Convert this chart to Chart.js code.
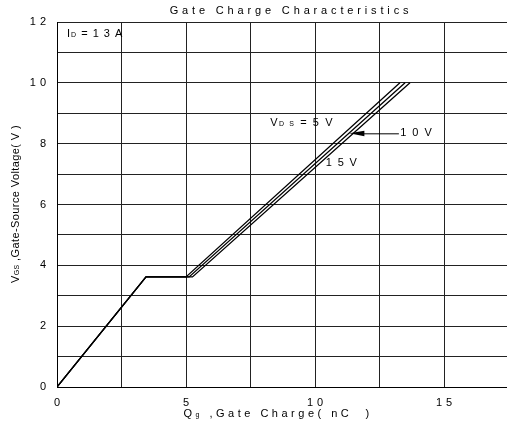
<!DOCTYPE html>
<html><head><meta charset="utf-8">
<script src="https://cdn.jsdelivr.net/npm/chart.js@4/dist/chart.umd.min.js"></script>
<style>html,body{margin:0;padding:0;background:#fff}</style>
</head><body>
<canvas id="c" width="507" height="430" style="display:block;width:507px;height:430px"></canvas>
<script>
// ---- data ----
const seriesNames = ['VDS = 5V', 'VDS = 10V', 'VDS = 15V'];
const qg5V  = [0, 3.45, 5.00, 13.29];   // nC
const qg10V = [0, 3.45, 5.12, 13.49];
const qg15V = [0, 3.45, 5.25, 13.68];
const vgs   = [0, 3.62, 3.62, 10];      // V
const xTickLabels = [0, 5, 10, 15];
const yTickLabels = [0, 2, 4, 6, 8, 10, 12];

const FONT = '"Liberation Sans", Arial, sans-serif';

function toPoints(xs, ys) { return xs.map((x, i) => ({x: x, y: ys[i]})); }

function drawRuns(ctx, runs, x, y, spacing, align) {
  ctx.save();
  ctx.letterSpacing = spacing + 'px';
  ctx.textBaseline = 'middle';
  ctx.textAlign = 'left';
  ctx.fillStyle = '#000';
  const widths = runs.map(r => { ctx.font = r[1] + 'px ' + FONT; return ctx.measureText(r[0]).width; });
  const total = widths.reduce((a, b) => a + b, 0);
  let cx = align === 'center' ? x - total / 2 : x;
  runs.forEach((r, i) => {
    ctx.font = r[1] + 'px ' + FONT;
    ctx.fillText(r[0], cx, y + (r[2] || 0));
    cx += widths[i];
  });
  ctx.restore();
}

const textPlugin = {
  id: 'texts',
  beforeDraw(chart) { chart.ctx.letterSpacing = '4px'; },
  afterDraw(chart) {
    const ctx = chart.ctx;
    const xs = chart.scales.x, ys = chart.scales.y;
    const X = v => xs.getPixelForValue(v), Y = v => ys.getPixelForValue(v);
    // title
    drawRuns(ctx, [['Gate Charge Characteristics', 11]], 291, 11, 3.85, 'center');
    // axis titles
    drawRuns(ctx, [['Q', 11], ['g', 7, 1], [' ,Gate Charge( nC  )', 11]], 278, 414, 3.5, 'center');
    ctx.save();
    ctx.translate(16, 204);
    ctx.rotate(-Math.PI / 2);
    drawRuns(ctx, [['V', 11], ['GS', 7, 1], [' ,Gate-Source Voltage( V )', 11]], 0, 0, 0.4, 'center');
    ctx.restore();
    // condition label
    drawRuns(ctx, [['I', 11], ['D', 7, 1], [' = 1 3 A', 11]], 67, 34, 1.0, 'left');
    // series labels
    drawRuns(ctx, [['V', 11], ['D S', 7, 1], [' = 5 V', 11]], X(8.26), Y(8.67), 1.6, 'left');
    drawRuns(ctx, [['1 0 V', 11]], X(13.3), Y(8.34), 1.5, 'left');
    drawRuns(ctx, [['1 5 V', 11]], X(10.42), Y(7.37), 1.3, 'left');
    // arrow to the 10V curve
    const tipX = X(11.33), tipY = Y(8.34);
    ctx.save();
    ctx.strokeStyle = '#000'; ctx.fillStyle = '#000'; ctx.lineWidth = 1;
    ctx.beginPath(); ctx.moveTo(tipX + 10, tipY + 0.5); ctx.lineTo(X(13.25), tipY + 0.5); ctx.stroke();
    ctx.beginPath(); ctx.moveTo(tipX, tipY); ctx.lineTo(tipX + 15, tipY - 2.5); ctx.lineTo(tipX + 15, tipY + 3); ctx.closePath(); ctx.fill();
    ctx.restore();
  }
};

const lineStyle = {borderColor: '#000', backgroundColor: '#000', borderWidth: 1.3, pointRadius: 0, tension: 0, fill: false, showLine: true};

new Chart(document.getElementById('c'), {
  type: 'scatter',
  data: {
    datasets: [
      Object.assign({label: seriesNames[0], data: toPoints(qg5V, vgs)}, lineStyle),
      Object.assign({label: seriesNames[1], data: toPoints(qg10V, vgs)}, lineStyle),
      Object.assign({label: seriesNames[2], data: toPoints(qg15V, vgs)}, lineStyle)
    ]
  },
  options: {
    responsive: false,
    animation: false,
    devicePixelRatio: 1,
    layout: {padding: {top: 22, right: 0, left: 0, bottom: 0}},
    plugins: {legend: {display: false}, title: {display: false}, tooltip: {enabled: false}},
    scales: {
      x: {
        type: 'linear', min: 0, max: 17.44,
        afterFit(s) { s.height = 43; s.paddingRight = 0; },
        grid: {color: '#222', lineWidth: 1, drawTicks: false},
        border: {color: '#000', width: 1},
        ticks: {
          stepSize: 2.5, padding: 9, labelOffset: 2, color: '#000', maxRotation: 0, includeBounds: false,
          font: {family: FONT, size: 11},
          callback: v => xTickLabels.includes(v) ? String(v) : ''
        }
      },
      y: {
        type: 'linear', min: 0, max: 12,
        afterFit(s) { s.width = 57; },
        grid: {color: '#222', lineWidth: 1, drawTicks: false},
        border: {color: '#000', width: 1},
        ticks: {
          stepSize: 1, padding: 7, color: '#000',
          font: {family: FONT, size: 11},
          callback: v => yTickLabels.includes(v) ? String(v) : ''
        }
      }
    }
  },
  plugins: [textPlugin]
});
</script>
</body></html>
